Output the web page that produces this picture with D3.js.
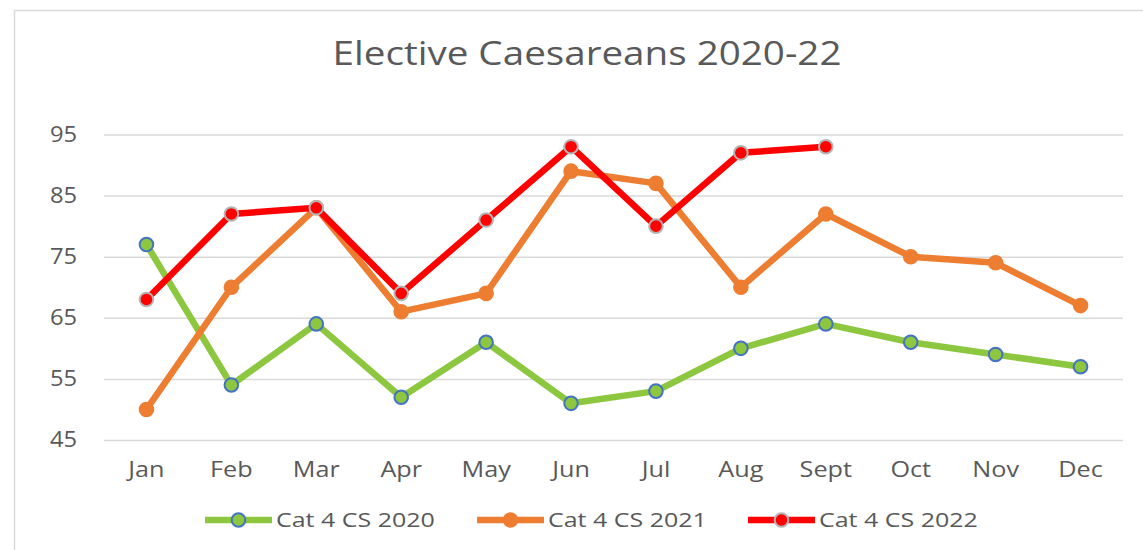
<!DOCTYPE html>
<html>
<head>
<meta charset="utf-8">
<script src="https://cdn.jsdelivr.net/npm/d3@7/dist/d3.min.js"></script>
<style>
  html, body { margin: 0; padding: 0; background: #fff; }
  svg { display: block; font-family: "Open Sans", "Liberation Sans", sans-serif; }
</style>
</head>
<body>
<svg id="chart" width="1143" height="550"></svg>
<script>
// Monthly elective caesarean counts (Category 4 CS)
const months = ["Jan", "Feb", "Mar", "Apr", "May", "Jun", "Jul", "Aug", "Sept", "Oct", "Nov", "Dec"];
const cs2020 = [77, 54, 64, 52, 61, 51, 53, 60, 64, 61, 59, 57];
const cs2021 = [50, 70, 83, 66, 69, 89, 87, 70, 82, 75, 74, 67];
const cs2022 = [68, 82, 83, 69, 81, 93, 80, 92, 93];
const yTicks = [45, 55, 65, 75, 85, 95];
const seriesNames = ["Cat 4 CS 2020", "Cat 4 CS 2021", "Cat 4 CS 2022"];

const series = [
  { name: seriesNames[0], values: cs2020, line: "#8DC63F", fill: "#8DC63F", stroke: "#4472C4" },
  { name: seriesNames[1], values: cs2021, line: "#ED7D31", fill: "#ED7D31", stroke: "#ED7D31" },
  { name: seriesNames[2], values: cs2022, line: "#FF0000", fill: "#FF0000", stroke: "#B4B4B4" }
];

const textColor = "#595959";
const svg = d3.select("#chart");
const plot = { left: 104, right: 1123, top: 134.5, bottom: 440 };

// Widen glyphs horizontally around each label's anchor point
function stretchText(sel, f) {
  sel.each(function () {
    const t = d3.select(this);
    const tx = +t.attr("x") || 0;
    const ty = +t.attr("y") || 0;
    t.attr("x", 0).attr("y", 0)
      .attr("transform", `translate(${tx},${ty}) scale(${f},1)`);
  });
}

// Chart area frame
svg.append("rect")
  .attr("x", 14.5).attr("y", 10.5)
  .attr("width", 1160).attr("height", 600)
  .attr("fill", "#fff").attr("stroke", "#D9D9D9").attr("stroke-width", 1.5);

// Title
const title = svg.append("text")
  .attr("x", 587).attr("y", 65)
  .attr("text-anchor", "middle")
  .attr("font-size", 33)
  .attr("fill", textColor)
  .text("Elective Caesareans 2020-22");
stretchText(title, 1.17);

const x = d3.scaleBand().domain(months).range([plot.left, plot.right]);
const y = d3.scaleLinear().domain([45, 95]).range([plot.bottom, plot.top]);

// Horizontal gridlines and value axis
const yAxis = svg.append("g")
  .attr("transform", `translate(${plot.left},0)`)
  .call(d3.axisLeft(y).tickValues(yTicks).tickSize(-(plot.right - plot.left)).tickPadding(27));
yAxis.select(".domain").remove();
yAxis.selectAll(".tick line").attr("stroke", "#D9D9D9").attr("stroke-width", 1.5);
yAxis.selectAll(".tick text")
  .attr("font-size", 21).attr("fill", textColor)
  .attr("font-family", "Open Sans, Liberation Sans, sans-serif");
stretchText(yAxis.selectAll(".tick text"), 1.13);

// Category axis
const xAxis = svg.append("g")
  .attr("transform", `translate(0,${plot.bottom})`)
  .call(d3.axisBottom(x).tickSize(0).tickPadding(22));
xAxis.select(".domain").remove();
xAxis.selectAll(".tick text")
  .attr("font-size", 21).attr("fill", textColor)
  .attr("font-family", "Open Sans, Liberation Sans, sans-serif");
stretchText(xAxis.selectAll(".tick text"), 1.2);

const cx = i => x(months[i]) + x.bandwidth() / 2;
const line = d3.line().x((d, i) => cx(i)).y(d => y(d));

const groups = svg.selectAll("g.series")
  .data(series).enter().append("g").attr("class", "series");

groups.append("path")
  .attr("d", d => line(d.values))
  .attr("fill", "none")
  .attr("stroke", d => d.line)
  .attr("stroke-width", 6.5)
  .attr("stroke-linejoin", "round");

groups.each(function (s) {
  d3.select(this).selectAll("circle")
    .data(s.values).enter().append("circle")
    .attr("cx", (d, i) => cx(i))
    .attr("cy", d => y(d))
    .attr("r", 6.8)
    .attr("fill", s.fill)
    .attr("stroke", s.stroke)
    .attr("stroke-width", 2);
});

// Legend
const legendX = [205, 477, 748];
const legendY = 520;
const legend = svg.selectAll("g.legend")
  .data(series).enter().append("g").attr("class", "legend")
  .attr("transform", (d, i) => `translate(${legendX[i]},${legendY})`);
legend.append("line")
  .attr("x1", 0).attr("x2", 67).attr("y1", 0).attr("y2", 0)
  .attr("stroke", d => d.line).attr("stroke-width", 6.5);
legend.append("circle")
  .attr("cx", 33.5).attr("cy", 0).attr("r", 6.8)
  .attr("fill", d => d.fill).attr("stroke", d => d.stroke).attr("stroke-width", 2);
const legendText = legend.append("text")
  .attr("x", 71).attr("y", 7)
  .attr("font-size", 20).attr("fill", textColor)
  .text(d => d.name);
stretchText(legendText, 1.25);
</script>
</body>
</html>
